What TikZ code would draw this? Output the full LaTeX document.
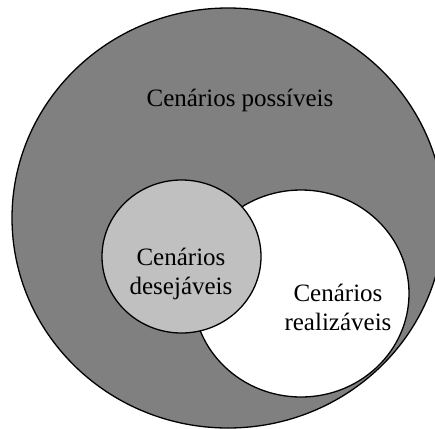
\documentclass[tikz,border=0pt]{standalone}
\usepackage{fontspec}
\setmainfont{Liberation Serif}
\begin{document}
\begin{tikzpicture}[x=1pt,y=-1pt,
  outline/.style={draw=black,line width=1.3pt},
  lbl/.style={font=\fontsize{25}{29}\selectfont,align=center,inner sep=0pt,anchor=base}]
\useasboundingbox (0,0) rectangle (435,428);
\clip (0,0) rectangle (435,428);
\fill[white] (0,0) rectangle (435,428);
\draw[outline,fill={rgb,255:red,128;green,128;blue,128}] (228,218) ellipse [x radius=216,y radius=210];
\draw[outline,fill=white] (301,293.5) ellipse [x radius=108,y radius=103.5];
\draw[outline,fill={rgb,255:red,192;green,192;blue,192}] (181.5,256.5) ellipse [x radius=79.5,y radius=76.5];
\node[lbl] (pos) at (240,106) {Cenários possíveis};
\node[lbl] (des) at (181,294) {Cenários\\desejáveis};
\node[lbl] (rea) at (338,330) {Cenários\\realizáveis};
\end{tikzpicture}
\end{document}
